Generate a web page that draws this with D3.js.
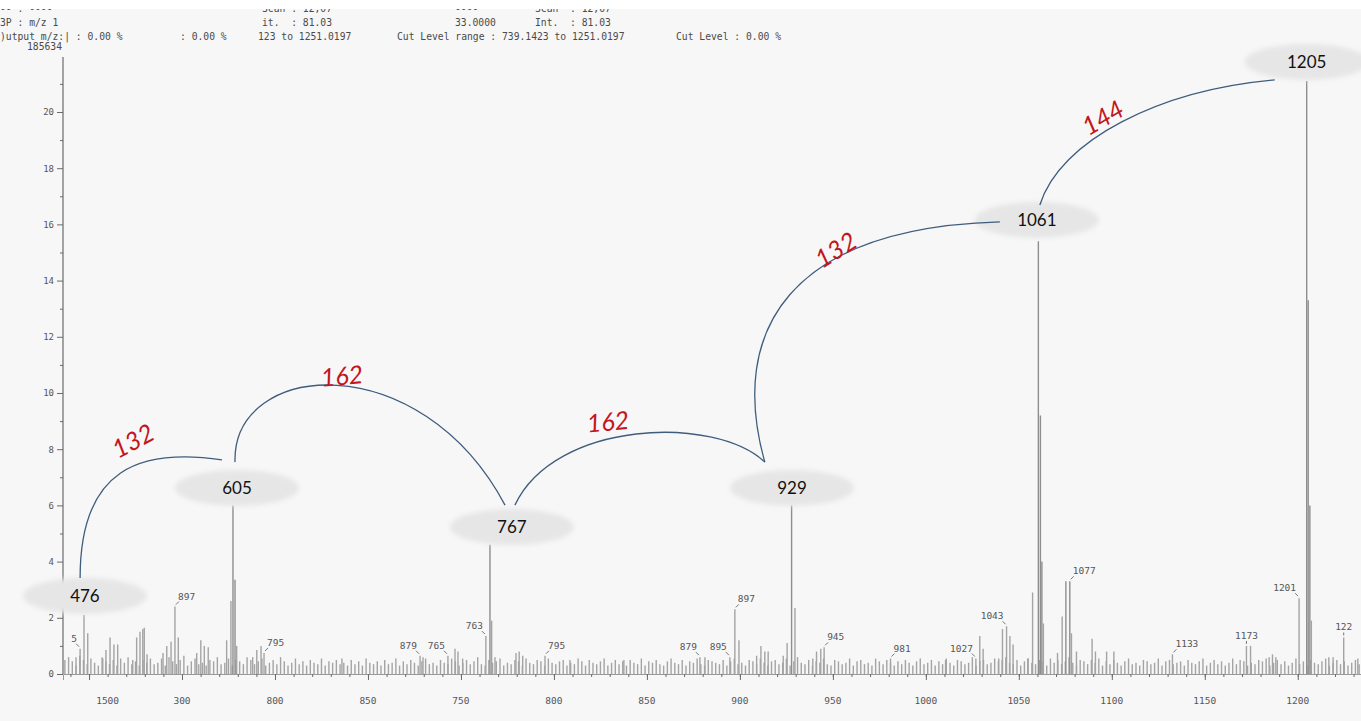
<!DOCTYPE html>
<html>
<head>
<meta charset="utf-8">
<script src="https://cdn.jsdelivr.net/npm/d3@7"></script>
<style>
  html, body { margin: 0; padding: 0; background: #f7f7f8; overflow: hidden; }
  svg { display: block; }
</style>
</head>
<body>
<div id="chart"></div>
<script>
// spectrum values (m/z position on the printed axis, relative intensity)
const noiseStart = 537, noiseStep = 2;
const noise = [
  0.5,0.6,0.45,0.3,0.65,0.5,0.35,0.55,0.4,0.3,0.6,0.45,0.35,0.5,0.3,0.55,0.4,0.6,0.35,0.45,0.3,0.5,0.4,0.55,0.35,
  0.4,0.55,0.3,0.6,0.45,0.35,0.5,0.65,0.3,0.45,0.55,0.35,0.4,0.3,0.5,0.45,0.6,0.35,0.4,0.55,0.3,0.5,0.45,0.35,0.6,
  0.5,0.35,0.45,0.55,0.3,0.4,0.5,0.35,0.6,0.45,0.3,0.4,0.55,0.35,0.45,0.3,0.5,0.4,0.35,0.55,0.3,0.45,0.4,0.5,0.35,
  0.4,0.3,0.5,0.35,0.45,0.3,0.55,0.4,0.35,0.45,0.3,0.5,0.35,0.4,0.55,0.3,0.45,0.35,0.5,0.4,0.3,0.45,0.55,0.35,0.4,
  0.3,0.5,0.4,0.35,0.55,0.45,0.3,0.4,0.5,0.35,0.45,0.6,0.35,0.3,0.5,0.4,0.45,0.55,0.3,0.4,0.35,0.5,0.45,0.3,0.55,
  0.4,0.35,0.5,0.45,0.3,0.55,0.4,0.35,0.45,0.5,0.3,0.4,0.35,0.55,0.45,0.3,0.5,0.4,0.35,0.45,0.55,0.3,0.4,0.5,0.35,
  0.45,0.3,0.5,0.4,0.35,0.55,0.3,0.45,0.4,0.5,0.35,0.3,0.45,0.55,0.4,0.35,0.5,0.3,0.45,0.4,0.55,0.35,0.3,0.5,0.45,
  0.4,0.35,0.5,0.3,0.45,0.55,0.35,0.4,0.3,0.5,0.45,0.35,0.55,0.4,0.3,0.45,0.5,0.35,0.4,0.55,0.3,0.45,0.6,0.4,0.35,
  0.5,0.3,0.45,0.4,0.55,0.35,0.3,0.5,0.45,0.35,0.4,0.55,0.3,0.45,0.5,0.35,0.4,0.3,0.55,0.45,0.35,0.5,0.4,0.3,0.45,
  0.35,0.5,0.4,0.3,0.45,0.55,0.35,0.4,0.5,0.3,0.45,0.35,0.55,0.4,0.3,0.5,0.45,0.35,0.4,0.6,0.3,0.45,0.5,0.35,0.4,
  0.55,0.45,0.5,0.6,0.4,0.35,0.5,0.3,0.45,0.55,0.4,0.35,0.5,0.45,0.3,0.55,0.4,0.5,0.35,0.45,0.6,0.4,0.3,0.5,0.45,
  0.35,0.5,0.4,0.55,0.3,0.45,0.35,0.5,0.4,0.3,0.45,0.55,0.35,0.4,0.3,0.5,0.45,0.35,0.4,0.55,0.3,0.45,0.5,0.35,0.4,
  0.45,0.3,0.5,0.4,0.35,0.45,0.55,0.3,0.4,0.5,0.35,0.45,0.3,0.4,0.55,0.35,0.5,0.45,0.3,0.4,0.35,0.5,0.45,0.55,0.3,
  0.4,0.5,0.35,0.45,0.3,0.4,0.55,0.35,0.45,0.3,0.5,0.4,0.35,0.45,0.55,0.3,0.4,0.5,0.35,0.45,0.3,0.4,0.5,0.35,0.45
];

const peaks = [
  [543.0,0.6],[545.2,0.9],[547.3,2.1],[549.3,1.45],[557.4,0.55],[559.1,0.85],[561.3,1.3],[563.4,1.05],
  [565.4,1.05],[573.5,0.5],[575.6,1.3],[577.4,1.5],[578.9,1.6],[579.7,1.65],[581.2,0.7],[589.8,0.75],
  [591.8,1.0],[594.1,1.15],[596.2,2.4],[598.0,1.3],[607.9,0.75],[610.1,1.2],[612.0,1.0],[614.1,0.95],
  [624.0,1.2],[626.3,2.6],[627.4,6.0],[628.5,3.35],[629.4,1.0],[638.0,0.6],[640.2,0.85],[642.5,1.0],
  [644.1,0.75],[686.0,0.55],[728.0,0.65],[729.6,0.6],[743.0,0.65],[746.8,0.9],[748.4,0.8],[750.9,0.55],
  [763.4,1.35],[765.6,4.6],[766.5,1.9],[768.3,0.6],[779.6,0.75],[781.3,0.8],[783.2,0.65],[795.2,0.65],
  [808.6,0.5],[837.6,0.5],[878.5,0.6],[881.2,0.6],[894.6,0.6],[897.3,2.3],[899.5,1.2],[909.0,0.65],
  [911.3,1.0],[913.4,0.8],[915.2,0.8],[923.3,0.65],[925.4,1.1],[927.8,6.0],[929.6,2.35],[939.2,0.55],
  [941.2,0.8],[943.5,0.9],[945.3,0.95],[981.0,0.55],[1010.6,0.5],[1026.9,0.55],[1029.0,1.35],[1030.8,0.9],
  [1039.2,0.55],[1041.2,1.6],[1043.4,1.7],[1045.2,1.35],[1046.9,1.05],[1054.8,0.55],[1057.4,2.9],
  [1060.5,15.4],[1061.6,9.2],[1062.4,4.0],[1063.2,1.8],[1070.8,0.75],[1073.3,2.05],[1075.3,3.3],
  [1077.4,3.3],[1078.3,1.45],[1081.0,0.8],[1089.4,1.25],[1091.2,0.8],[1097.2,0.8],[1101.1,0.8],
  [1132.6,0.7],[1172.4,1.0],[1174.6,1.0],[1184.6,0.6],[1186.4,0.7],[1188.2,0.6],[1200.7,2.7],
  [1204.8,21.1],[1205.6,13.3],[1206.5,6.0],[1207.3,1.9],[1216.7,0.6],[1219.0,0.6],[1224.7,1.3],[1232.3,0.55]
];

// printed peak labels: [peak m/z, text, side of the peak]
const peakLabels = [
  [545.2,"5","l"],[596.2,"897","r"],[644.1,"795","r"],[728.0,"879","l"],[743.0,"765","l"],
  [763.4,"763","l"],[795.2,"795","r"],[878.5,"879","l"],[894.6,"895","l"],[897.3,"897","r"],
  [945.3,"945","r"],[981.0,"981","r"],[1026.9,"1027","l"],[1043.4,"1043","l"],[1077.4,"1077","r"],
  [1132.6,"1133","r"],[1172.4,"1173","c"],[1200.7,"1201","l"],[1224.7,"122","c"]
];

const yTicks = [0,2,4,6,8,10,12,14,16,18,20];
const xTickValues = [550,600,650,700,750,800,850,900,950,1000,1050,1100,1150,1200];
const xTickLabels = [[560,"1500"],[600,"300"],[650,"800"],[700,"850"],[750,"750"],[800,"800"],
  [850,"850"],[900,"900"],[950,"950"],[1000,"1000"],[1050,"1050"],[1100,"1100"],[1150,"1150"],[1200,"1200"]];

// fragment bubbles (label, m/z, level) and the neutral losses between them
const fragments = [
  ["476",547.8,2.78],["605",629.6,6.62],["767",777.4,5.23],
  ["929",928.0,6.62],["1061",1059.7,16.16],["1205",1204.8,21.78]
];
const losses = ["132","162","162","132","144"];

const headerRows = [
  [[0,"-- : ----"],[262,"Scan : 12,07"],[455,"----"],[535,"Scan  : 12,07"]],
  [[0,"3P : m/z 1"],[262,"it.  : 81.03"],[455,"33.0000"],[535,"Int.  : 81.03"]],
  [[0,")utput m/z:| : 0.00 %"],[180,": 0.00 %"],[258,"123 to 1251.0197"],
   [397,"Cut Level range : 739.1423 to 1251.0197"],[676,"Cut Level : 0.00 %"]],
  [[27,"185634"]]
];

const W = 1361, H = 721;
const svg = d3.select("#chart").append("svg").attr("width", W).attr("height", H);

const x = d3.scaleLinear().domain([536, 1234]).range([63, W]);
const y = d3.scaleLinear().domain([0, 21.85]).range([674, 60]);

const mono = "'DejaVu Sans Mono', monospace";
const grey = "#6a6a6a";

// bars
const bars = noise.map((h, i) => ({ mz: noiseStart + i * noiseStep, h }))
  .concat(peaks.map(([mz, h]) => ({ mz, h })));

svg.append("g").selectAll("line")
  .data(bars)
  .enter().append("line")
  .attr("x1", d => x(d.mz)).attr("x2", d => x(d.mz))
  .attr("y1", y(0)).attr("y2", d => y(d.h))
  .attr("stroke", d => d.h > 3 ? "#8e8e8e" : "#a4a4a4")
  .attr("stroke-width", 1.4);

// y axis
const yAxis = svg.append("g").attr("transform", `translate(${x(536)},0)`)
  .call(d3.axisLeft(y).tickValues(yTicks).tickSize(6).tickPadding(3).tickFormat(d3.format("d")));
yAxis.select(".domain").remove();
svg.append("line").attr("x1", x(536)).attr("x2", x(536)).attr("y1", y(0)).attr("y2", 57)
  .attr("stroke", grey).attr("stroke-width", 1.2);
svg.append("g").attr("transform", `translate(${x(536)},0)`)
  .call(d3.axisLeft(y).tickValues(d3.range(1, 22, 2)).tickSize(3).tickFormat(""))
  .select(".domain").remove();

// x axis
svg.append("g").attr("transform", `translate(0,${y(0)})`)
  .call(d3.axisBottom(x).tickValues(xTickValues).tickSize(6).tickFormat(""));
svg.append("g").attr("transform", `translate(0,${y(0)})`)
  .call(d3.axisBottom(x).tickValues(d3.range(540, 1234, 10)).tickSize(3).tickFormat(""))
  .select(".domain").remove();

svg.selectAll(".tick line").attr("stroke", grey);
svg.selectAll(".domain").attr("stroke", "#9a9a9a");
yAxis.selectAll("text").attr("font-family", mono).attr("font-size", 9).attr("fill", "#555");

svg.append("g").selectAll("text")
  .data(xTickLabels)
  .enter().append("text")
  .attr("x", d => x(d[0])).attr("y", 704)
  .attr("text-anchor", "middle")
  .attr("font-family", mono).attr("font-size", 9.5).attr("fill", "#555")
  .text(d => d[1]);

// printed peak labels with their small pointers
const peakTop = mz => {
  const p = peaks.find(d => d[0] === mz);
  return p ? p[1] : 0;
};
const pl = svg.append("g").selectAll("g")
  .data(peakLabels)
  .enter().append("g")
  .attr("transform", d => `translate(${x(d[0])},${y(peakTop(d[0]))})`);
pl.append("line")
  .attr("x1", d => d[2] === "l" ? -1 : d[2] === "r" ? 1 : 0)
  .attr("x2", d => d[2] === "l" ? -4 : d[2] === "r" ? 4 : 0)
  .attr("y1", -2).attr("y2", -5)
  .attr("stroke", "#666").attr("stroke-width", 0.9);
pl.append("text")
  .attr("x", d => d[2] === "l" ? -3 : d[2] === "r" ? 3 : 0)
  .attr("y", -7)
  .attr("text-anchor", d => d[2] === "l" ? "end" : d[2] === "r" ? "start" : "middle")
  .attr("font-family", mono).attr("font-size", 9.5).attr("fill", "#555")
  .text(d => d[1]);

// fragment bubbles
const defs = svg.append("defs");
defs.append("filter").attr("id", "soft").attr("x", "-20%").attr("y", "-40%")
  .attr("width", "140%").attr("height", "180%")
  .append("feGaussianBlur").attr("stdDeviation", 2.5);

const bub = svg.append("g").selectAll("g")
  .data(fragments)
  .enter().append("g")
  .attr("transform", d => `translate(${x(d[1])},${y(d[2])})`);
bub.append("ellipse").attr("rx", 62).attr("ry", 18)
  .attr("fill", "#e6e6e6").attr("filter", "url(#soft)");
bub.append("text")
  .attr("text-anchor", "middle").attr("dy", "0.35em")
  .attr("font-family", "Lato, 'Open Sans', sans-serif").attr("font-size", 17).attr("fill", "#111")
  .text(d => d[0]);

// loss arcs between bubbles: start, two control points and end, in axis units
const arcShapes = [
  [[545.2,3.42],[545.2,7.33],[577.4,8.04],[621.5,7.62]],
  [[628.5,7.54],[626.9,11.17],[728.0,11.71],[773.7,6.01]],
  [[779.0,6.01],[800.5,9.04],[886.6,9.22],[913.4,7.54]],
  [[913.4,7.54],[893.5,12.24],[926.9,15.87],[1039.8,16.09]],
  [[1061.3,16.69],[1072.1,19.0],[1125.8,20.78],[1187.6,21.14]]
];
const lossText = [
  [573.7,8.29,-28],[686.0,10.6,-5],[829.0,8.97,-5],[951.6,15.09,-32],[1095.2,19.79,-30]
];

svg.append("g").selectAll("path")
  .data(arcShapes)
  .enter().append("path")
  .attr("d", d => {
    const p = d.map(([m, v]) => [x(m), y(v)]);
    return `M${p[0]}C${p[1]} ${p[2]} ${p[3]}`;
  })
  .attr("fill", "none").attr("stroke", "#3f5d7c").attr("stroke-width", 1.3);

svg.append("g").selectAll("text")
  .data(losses)
  .enter().append("text")
  .attr("transform", (d, i) => `translate(${x(lossText[i][0])},${y(lossText[i][1])}) rotate(${lossText[i][2]})`)
  .attr("text-anchor", "middle").attr("dy", "0.35em")
  .attr("font-family", "Lato, 'Open Sans', sans-serif").attr("font-style", "italic")
  .attr("font-size", 25).attr("fill", "#c3161c")
  .text(d => d);

// scanned header lines
const rowY = [12, 26, 40, 50];
headerRows.forEach((row, r) => {
  svg.append("g").selectAll("text")
    .data(row)
    .enter().append("text")
    .attr("x", d => d[0]).attr("y", rowY[r])
    .attr("font-family", mono).attr("font-size", 9.7).attr("fill", "#4a4a4a")
    .attr("xml:space", "preserve")
    .style("white-space", "pre")
    .text(d => d[1]);
});

// white strip at the top edge of the scan
svg.append("rect").attr("x", 0).attr("y", 0).attr("width", W).attr("height", 9).attr("fill", "#ffffff");
</script>
</body>
</html>
